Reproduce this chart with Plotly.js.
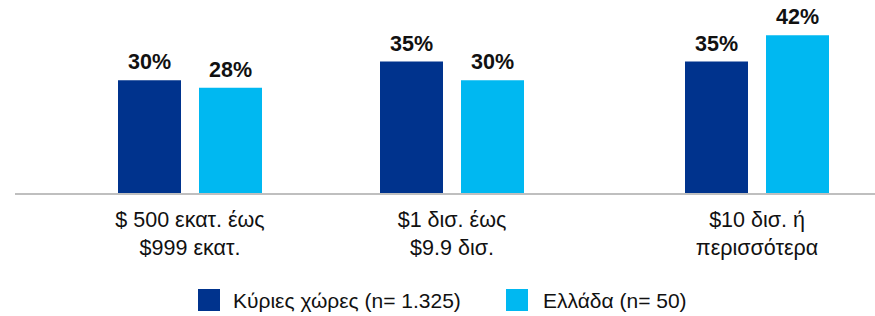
<!DOCTYPE html>
<html>
<head>
<meta charset="utf-8">
<script src="https://cdn.plot.ly/plotly-3.0.1.min.js"></script>
<style>html,body{margin:0;padding:0;background:#fff;}#chart{width:875px;height:316px;}</style>
</head>
<body>
<div id="chart"></div>
<script>
const categories = ["$ 500 εκατ. έως<br>$999 εκατ.", "$1 δισ. έως<br>$9.9 δισ.", "$10 δισ. ή<br>περισσότερα"];
const seriesNames = ["Κύριες χώρες (n= 1.325)", "Ελλάδα (n= 50)"];
const mainCountries = [30, 35, 35];
const greece = [28, 30, 42];
const valueLabels = v => v + "%";

// layout constants (positions on the x axis, px-like units)
const groupPos = [190, 452, 757];
const barW = 63;
const colors = ["#00338D", "#00B8F1"];
const font = "Liberation Sans, Arial, Helvetica, sans-serif";

const traces = [
  {type: "bar", x: groupPos, y: mainCountries, width: barW, offset: -72, marker: {color: colors[0]}, name: seriesNames[0], showlegend: false, hoverinfo: "none"},
  {type: "bar", x: groupPos, y: greece, width: barW, offset: 9, marker: {color: colors[1]}, name: seriesNames[1], showlegend: false, hoverinfo: "none"}
];

const annotations = [];
[mainCountries, greece].forEach((arr, s) => {
  arr.forEach((v, i) => {
    annotations.push({
      x: groupPos[i] + (s === 0 ? -40.5 : 40.5), y: v, xref: "x", yref: "y",
      text: "<b>" + valueLabels(v) + "</b>", showarrow: false, yanchor: "bottom", yshift: 4,
      font: {family: font, size: 21.5, color: "#111"}
    });
  });
});
// legend
const legendItems = [{sx: 198, tx: 231}, {sx: 506, tx: 541}];
const shapes = [];
legendItems.forEach((it, s) => {
  shapes.push({type: "rect", xref: "paper", yref: "paper", x0: (it.sx - 15) / 860, x1: (it.sx + 22 - 15) / 860,
    y0: -(311 - 193) / 169, y1: -(289 - 193) / 169, fillcolor: colors[s], line: {width: 0}});
  annotations.push({xref: "paper", yref: "paper", x: (it.tx - 15) / 860, y: -(300 - 193) / 169,
    xanchor: "left", yanchor: "middle", showarrow: false, text: seriesNames[s],
    font: {family: font, size: 21, color: "#111"}});
});

const layout = {
  width: 875, height: 316,
  margin: {l: 15, r: 0, t: 24, b: 123},
  paper_bgcolor: "#fff", plot_bgcolor: "#fff",
  showlegend: false,
  xaxis: {range: [15, 875], tickvals: groupPos, ticktext: categories, showgrid: false, zeroline: false,
    showline: true, linecolor: "#BFBFBF", linewidth: 2, ticks: "", ticklabelstandoff: 6,
    tickfont: {family: font, size: 21.5, color: "#111"}, fixedrange: true},
  yaxis: {range: [0, 45], visible: false, fixedrange: true},
  annotations: annotations,
  shapes: shapes
};
Plotly.newPlot("chart", traces, layout, {staticPlot: true, displayModeBar: false});
</script>
</body>
</html>
